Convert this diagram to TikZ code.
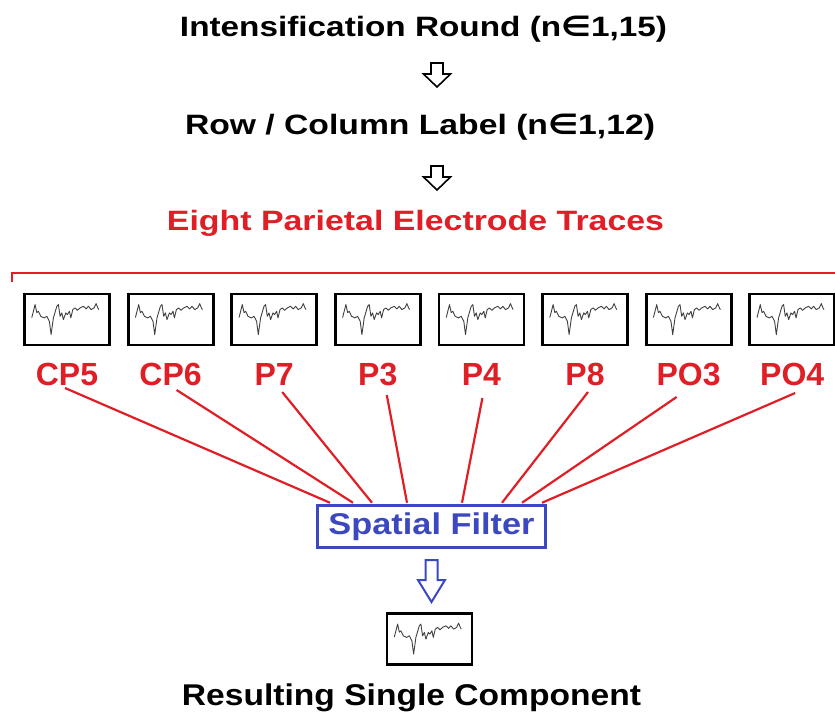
\documentclass[tikz,border=0pt]{standalone}
\usepackage{fontspec}
\setmainfont{Liberation Sans}
\newfontfamily\mathsymfont{DejaVu Sans}
\usetikzlibrary{calc}

\definecolor{elecred}{RGB}{224,30,38}
\definecolor{filterblue}{RGB}{60,72,192}

% set a line of text to a given width, keeping its natural height
\newcommand\fitwidth[2]{\resizebox{#1}{\height}{#2}}

\tikzset{
  heading/.style={font=\bfseries\fontsize{28}{30}\selectfont, inner sep=0pt, anchor=base},
  chanlabel/.style={font=\bfseries\fontsize{32}{34}\selectfont, text=elecred, inner sep=0pt, anchor=base},
  wire/.style={draw=elecred, line width=2.2pt},
  trace/.style={draw=black!75, line width=0.9pt, line join=round},
  tracebox/.style={draw=black, line width=2.8pt, minimum width=85pt, minimum height=51pt, inner sep=0pt},
  filterbox/.style={draw=filterblue, line width=2.5pt, minimum width=228pt, minimum height=42pt,
    inner sep=0pt, text=filterblue, font=\bfseries\fontsize{30}{32}\selectfont},
  % EEG-like waveform, placed at the top-left corner of a trace box
  pics/eegwave/.style={code={
    \draw[trace] plot coordinates {(8.7,25) (12,12) (13.7,20) (15.3,18.7) (17.7,23.7) (21,25.3)
      (23.7,23.7) (26.3,28.7) (28,42) (30.3,25.3) (33.7,13.7) (35.3,12) (37,23.7)
      (38.7,20.3) (40.3,27) (42.7,20.3) (44.3,22) (46.3,18.7) (47.7,25.3) (49.7,17)
      (52,15.3) (54.3,17.7) (57,15.3) (60.3,13.7) (63,16.3) (65.3,13.7) (68,17)
      (71,15.3) (73,11) (74.7,15.3) (75.7,17)};}},
  % hollow block arrow pointing down: #1 shaft length, #2 head length
  pics/hollowarrow/.style 2 args={code={
    \draw[pic actions] (-6,0) -- (6,0) -- (6,#1) -- (13.5,#1) -- (0,#1+#2)
      -- (-13.5,#1) -- (-6,#1) -- cycle;}},
}

\begin{document}
\begin{tikzpicture}[x=1pt,y=-1pt]
\useasboundingbox (0,0) rectangle (835,720);

% processing chain headings
\node[heading] (t1) at (423.5,36)
  {\fitwidth{487pt}{Intensification Round (n{\mathsymfont ∈}1,15)}};
\pic[draw=black, line width=1.6pt, fill=white] at (437,63) {hollowarrow={11}{13}};
\node[heading] (t2) at (420,134)
  {\fitwidth{470pt}{Row / Column Label (n{\mathsymfont ∈}1,12)}};
\pic[draw=black, line width=1.6pt, fill=white] at (437,166) {hollowarrow={11}{13}};
\node[heading, text=elecred] (t3) at (415.5,230)
  {\fitwidth{497pt}{Eight Parietal Electrode Traces}};

% bracket over the electrode traces
\coordinate (brl) at (12,282);
\coordinate (brc) at (12,273);
\coordinate (brr) at (840,273);
\draw[wire] (brl) -- (brc) -- (brr);

% spatial filter
\node[filterbox] (sf) at (431.5,526.5) {\fitwidth{206pt}{Spatial Filter}};

% electrode traces and their labels
\foreach \i/\name in {0/CP5,1/CP6,2/P7,3/P3,4/P4,5/P8,6/PO3,7/PO4} {
  \node[tracebox] (b\i) at (67+103.6*\i,319.5) {};
  \pic at (b\i.north west) {eegwave};
  \node[chanlabel] (l\i) at ($(b\i.center)+(0,65.5)$) {\name};
}

% wires from each electrode into the filter
\foreach \i/\sx/\sy/\ex in {0/-2/3/-101.5, 1/6/5/-78.5, 2/8/7/-59.5, 3/9/10/-24.5,
                           4/1/13/30.5, 5/3/7/70.5, 6/-12/12/90.5, 7/3/8/110.5} {
  \draw[wire] ($(l\i.base)+(\sx,\sy)$) -- ($(sf.north)+(\ex,-1.5)$);
}

% output component
\pic[draw=filterblue, line width=2pt, fill=white] at (431.5,560) {hollowarrow={20}{22}};
\node[tracebox] (rb) at (429.5,639) {};
\pic at (rb.north west) {eegwave};
\node[heading, font=\bfseries\fontsize{30}{32}\selectfont] (rt) at (411.5,705)
  {\fitwidth{459pt}{Resulting Single Component}};
\end{tikzpicture}
\end{document}
